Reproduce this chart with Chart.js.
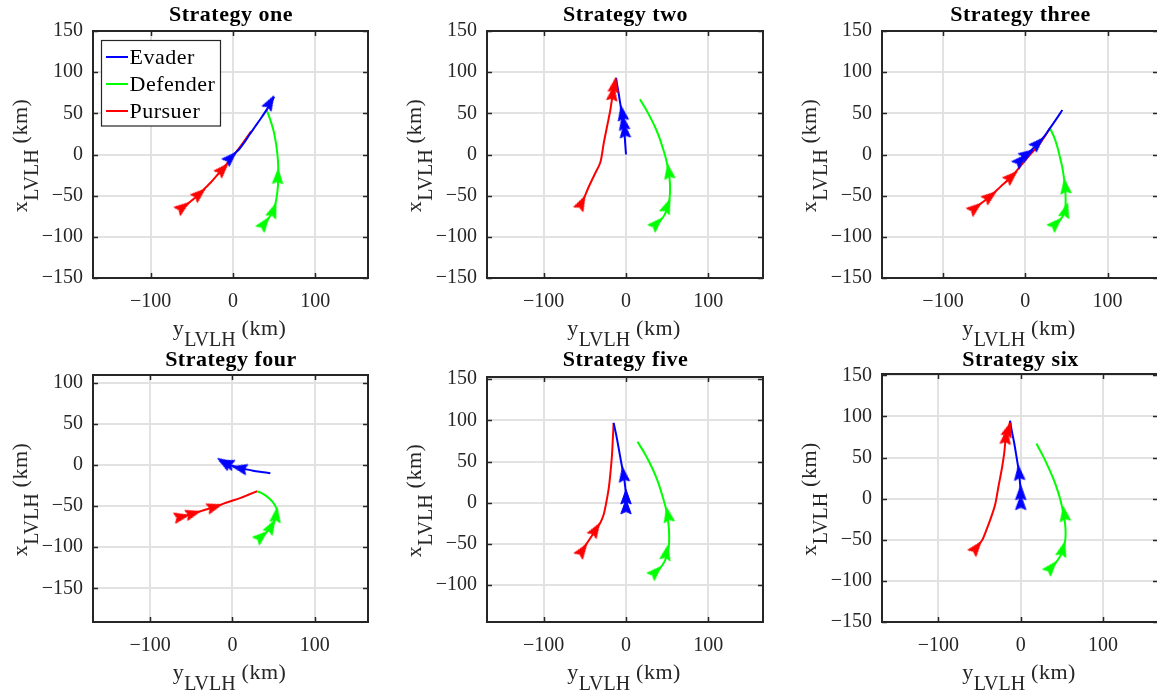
<!DOCTYPE html>
<html>
<head>
<meta charset="utf-8">
<script src="https://cdn.jsdelivr.net/npm/chart.js@4.4.1/dist/chart.umd.min.js"></script>
<style>
  html, body { margin: 0; padding: 0; background: #ffffff; overflow: hidden; width: 1157px; height: 694px; }
  #wrap { position: relative; width: 1157px; height: 694px; overflow: hidden; }
  #wrap canvas { position: absolute; left: 0; top: 0; }
</style>
</head>
<body>
<div id="wrap"></div>
<script>
// ---- text ----
const titles = ['Strategy one', 'Strategy two', 'Strategy three', 'Strategy four', 'Strategy five', 'Strategy six'];
const seriesNames = ['Evader', 'Defender', 'Pursuer'];

// ---- tick values ----
const xTickValues = [-100, 0, 100];
const yTicksFull = [-150, -100, -50, 0, 50, 100, 150];
const yTicksFour = [-150, -100, -50, 0, 50, 100];
const yTicksFive = [-100, -50, 0, 50, 100, 150];

// ---- axis limits [min, max] (y_LVLH horizontal, x_LVLH vertical) ----
const xLimits = [[-170, 164], [-168.8, 166.4], [-174.1, 161.2], [-169.4, 164.6], [-168.8, 166.4], [-168.5, 166.7]];
const yLimits = [[-150, 150], [-150, 150], [-150, 150], [-190.8, 109.2], [-144.9, 152.7], [-150.5, 151.8]];

// ---- trajectories: [y_LVLH, x_LVLH] in km ----
// Strategy one
const evaderOne = [[-3,-4],[2,1],[8,7],[14,15],[20,24],[27,34],[34,44],[40,53],[45,61],[50,70]];
const defenderOne = [[37,-86],[43,-78],[48,-70],[51,-62],[53,-52],[54.5,-40],[55,-27],[55,-15],[54,0],[52,15],[49,30],[45,43],[41,54]];
const pursuerOne = [[-63,-66],[-55,-60],[-48,-54],[-41,-48],[-34,-41],[-27,-34],[-20,-26],[-12.5,-18],[-5,-8],[3,2],[12,14],[22,28]];
const evaderOneArrows = [[-3,-4],[45,63]];
const defenderOneArrows = [[38,-84],[49,-68],[54.5,-27]];
const pursuerOneArrows = [[-61,-64],[-41,-48],[-12.5,-18]];

// Strategy two
const evaderTwo = [[0,0],[-1,14],[-2,28],[-3,38],[-5,50],[-7,62],[-9,75],[-11,86],[-12,93]];
const defenderTwo = [[36,-86],[42,-80],[47,-73],[51,-63],[53,-53],[53.5,-42],[53,-30],[51,-17],[48,-3],[44,10],[40,22],[35,34],[29,46],[23,57],[17,67]];
const pursuerTwo = [[-55,-61],[-51,-53],[-46,-41],[-38,-24],[-31,-9],[-27,14],[-23,34],[-19,54],[-16,74],[-14,85],[-12,93]];
const evaderTwoArrows = [[-1.5,29],[-3,38.5],[-4.5,50]];
const defenderTwoArrows = [[37,-84],[50,-63],[52,-21]];
const pursuerTwoArrows = [[-54,-59],[-16,74],[-14,84]];

// Strategy three
const evaderThree = [[-8,-8],[-3,-3],[3,1],[10,8],[16,14],[23,22],[30,32],[37,42],[45,54]];
const defenderThree = [[36,-86],[42,-80],[46,-74],[48.5,-65],[49,-55],[48.5,-42],[47,-29],[45,-16],[42,-3],[39,9],[35,21],[30,32]];
const pursuerThree = [[-62,-66],[-52,-58],[-43,-51],[-30,-39],[-17,-27],[-5,-13],[5,-1],[15,10],[23,21],[30,32]];
const evaderThreeArrows = [[-6,-7],[2,0.5],[15,13.5]];
const defenderThreeArrows = [[37,-84],[49,-68],[48.5,-39]];
const pursuerThreeArrows = [[-61,-65],[-43,-51],[-17,-27]];

// Strategy four
const evaderFour = [[46,-10],[35,-8.5],[25,-7],[15,-5],[8,-3.5],[0,-1],[-8,1.5],[-12,4]];
const defenderFour = [[33,-89],[40,-83],[46,-77],[50,-70],[53,-62],[54,-55],[51,-48],[46,-42],[40,-37],[35,-34],[30,-32]];
const pursuerFour = [[-65,-63],[-55,-61],[-48,-59],[-35,-55],[-22,-51],[-5,-45],[10,-40],[20,-36],[30,-32]];
const evaderFourArrows = [[-10,3],[-7,2],[9,-4]];
const defenderFourArrows = [[35,-87],[47,-75],[53,-61]];
const pursuerFourArrows = [[-62,-63],[-48,-59],[-22,-51]];

// Strategy five
const evaderFive = [[0,-10],[0,-5],[0,7],[-1,20],[-3,34],[-6,50],[-9,67],[-12,83],[-15,97]];
const defenderFive = [[35,-86],[42,-79],[47,-71],[50,-63],[52,-53],[52.5,-42],[52,-30],[50.5,-18],[48,-5],[44,9],[40,22],[35,35],[29,48],[22,61],[14,74]];
const pursuerFive = [[-55,-60],[-48,-50],[-42,-41],[-37,-33],[-31,-24],[-27,-14],[-24,0],[-21,17],[-19,35],[-17,58],[-16,77],[-15,97]];
const evaderFiveArrows = [[0,-5],[0,7],[-3,34]];
const defenderFiveArrows = [[36,-84],[49,-61],[51,-15]];
const pursuerFiveArrows = [[-53,-58],[-37,-33]];

// Strategy six
const evaderSix = [[0,-10],[0,-5],[0,7],[-1,20],[-2,31],[-5,50],[-8,68],[-11,83],[-13,95]];
const defenderSix = [[36,-86],[42,-79],[47,-72],[51,-63],[53.5,-54],[54.5,-44],[54,-32],[52,-19],[49,-5],[45,9],[40,23],[34,37],[27,52],[19,67]];
const pursuerSix = [[-56,-62],[-52,-57],[-47,-51],[-42,-39],[-36,-23],[-31,-7],[-27,15],[-23,36],[-20,56],[-18,75],[-15,84],[-13,94]];
const evaderSixArrows = [[0,-5],[0,7],[-2,31]];
const defenderSixArrows = [[37,-84],[51,-62],[53,-19]];
const pursuerSixArrows = [[-54,-60],[-18,75],[-15,84]];

// ---- styling ----
const COLORS = ['#0000ff', '#00ff00', '#ff0000'];
const SERIF = "'Liberation Serif', 'Times New Roman', serif";
const AXIS_COLOR = '#262626';
const GRID_COLOR = '#e2e2e2';
const CANVAS_W = 1170, CANVAS_H = 694;
const Y_AXIS_W = 60, X_AXIS_H = 40;

// plot-area boxes of the 2x3 grid
const panels = [
  { left: 93,  top: 31,  right: 368,  bottom: 278, titleBase: 20.7 },
  { left: 487, top: 31,  right: 763,  bottom: 278, titleBase: 20.7 },
  { left: 882, top: 31,  right: 1158, bottom: 278, titleBase: 20.7 },
  { left: 93,  top: 375, right: 368,  bottom: 622, titleBase: 365.7 },
  { left: 487, top: 377, right: 763,  bottom: 622, titleBase: 365.7 },
  { left: 882, top: 374, right: 1158, bottom: 622, titleBase: 365.7 }
];

const strategies = [
  { paths: [evaderOne, defenderOne, pursuerOne],       arrows: [evaderOneArrows, defenderOneArrows, pursuerOneArrows],       yTicks: yTicksFull },
  { paths: [evaderTwo, defenderTwo, pursuerTwo],       arrows: [evaderTwoArrows, defenderTwoArrows, pursuerTwoArrows],       yTicks: yTicksFull },
  { paths: [evaderThree, defenderThree, pursuerThree], arrows: [evaderThreeArrows, defenderThreeArrows, pursuerThreeArrows], yTicks: yTicksFull },
  { paths: [evaderFour, defenderFour, pursuerFour],    arrows: [evaderFourArrows, defenderFourArrows, pursuerFourArrows],    yTicks: yTicksFour },
  { paths: [evaderFive, defenderFive, pursuerFive],    arrows: [evaderFiveArrows, defenderFiveArrows, pursuerFiveArrows],    yTicks: yTicksFive },
  { paths: [evaderSix, defenderSix, pursuerSix],       arrows: [evaderSixArrows, defenderSixArrows, pursuerSixArrows],       yTicks: yTicksFull }
];

// arrowhead sprite pointing up, centred in its canvas
function makeArrowHead(color) {
  const c = document.createElement('canvas');
  c.width = 18; c.height = 18;
  const g = c.getContext('2d');
  g.fillStyle = color;
  g.strokeStyle = color;
  g.lineWidth = 1;
  g.lineJoin = 'round';
  g.beginPath();
  g.moveTo(9, 1.5);
  g.lineTo(14.2, 16);
  g.lineTo(9, 13.6);
  g.lineTo(3.8, 16);
  g.closePath();
  g.fill();
  g.stroke();
  return c;
}
const arrowHeads = COLORS.map(makeArrowHead);

// heading (degrees clockwise from up) of the path segment nearest to a point
function headingAt(path, p) {
  let best = Infinity, dir = [0, 1];
  for (let i = 0; i < path.length - 1; i++) {
    const a = path[i], b = path[i + 1];
    const vx = b[0] - a[0], vy = b[1] - a[1];
    const len2 = vx * vx + vy * vy || 1;
    let t = ((p[0] - a[0]) * vx + (p[1] - a[1]) * vy) / len2;
    t = Math.max(0, Math.min(1, t));
    const dx = a[0] + t * vx - p[0], dy = a[1] + t * vy - p[1];
    const d = dx * dx + dy * dy;
    if (d < best) { best = d; dir = [vx, vy]; }
  }
  return Math.atan2(dir[0], dir[1]) * 180 / Math.PI;
}

const toXY = pts => pts.map(([x, y]) => ({ x, y }));
const fmtTick = v => String(v).replace('-', '\u2212');

const LABEL_FONT = `22px ${SERIF}`;
const SUB_FONT = `20px ${SERIF}`;

function drawComposite(ctx, parts) {
  const widths = parts.map(p => {
    ctx.font = p.sub ? SUB_FONT : LABEL_FONT;
    ctx.letterSpacing = p.sub ? '0px' : '0.5px';
    return ctx.measureText(p.t).width;
  });
  const total = widths.reduce((a, b) => a + b, 0);
  let x = -total / 2;
  parts.forEach((p, i) => {
    ctx.font = p.sub ? SUB_FONT : LABEL_FONT;
    ctx.letterSpacing = p.sub ? '0px' : '0.5px';
    ctx.fillText(p.t, x, p.sub ? 11 : 0);
    x += widths[i];
  });
}

// frame, inward ticks, title, axis labels and legend
const decor = {
  id: 'decor',
  afterDraw(chart, args, opts) {
    const ctx = chart.ctx;
    const a = chart.chartArea;
    const xs = chart.scales.x, ys = chart.scales.y;
    const idx = opts.index;
    const box = panels[idx];
    ctx.save();

    // inward tick marks on all four sides
    ctx.strokeStyle = AXIS_COLOR;
    ctx.lineWidth = 1.5;
    ctx.beginPath();
    xTickValues.forEach(v => {
      const px = Math.round(xs.getPixelForValue(v)) + 0.5;
      ctx.moveTo(px, a.bottom); ctx.lineTo(px, a.bottom - 5);
      ctx.moveTo(px, a.top); ctx.lineTo(px, a.top + 5);
    });
    strategies[idx].yTicks.forEach(v => {
      const py = Math.round(ys.getPixelForValue(v)) + 0.5;
      ctx.moveTo(a.left, py); ctx.lineTo(a.left + 5, py);
      ctx.moveTo(a.right, py); ctx.lineTo(a.right - 5, py);
    });
    ctx.stroke();

    // axes box
    ctx.lineWidth = 2;
    ctx.strokeRect(a.left, a.top, a.right - a.left, a.bottom - a.top);

    // title
    ctx.fillStyle = '#000000';
    ctx.font = `bold 22px ${SERIF}`;
    ctx.letterSpacing = '0.5px';
    ctx.textAlign = 'center';
    ctx.textBaseline = 'alphabetic';
    ctx.fillText(titles[idx], (a.left + a.right) / 2 + 0.5, box.titleBase);

    // axis labels with LVLH subscript
    ctx.textAlign = 'left';
    ctx.fillStyle = AXIS_COLOR;
    ctx.save();
    ctx.translate((a.left + a.right) / 2 - 1, a.bottom + 57);
    drawComposite(ctx, [{ t: 'y' }, { t: 'LVLH', sub: true }, { t: ' (km)' }]);
    ctx.restore();
    ctx.save();
    ctx.translate(a.left - 66, (a.top + a.bottom) / 2 + 1);
    ctx.rotate(-Math.PI / 2);
    drawComposite(ctx, [{ t: 'x' }, { t: 'LVLH', sub: true }, { t: ' (km)' }]);
    ctx.restore();

    // legend
    if (opts.legend) {
      const lx = 101.5, ly = 40.5, lw = 119, lh = 85.5;
      ctx.fillStyle = '#ffffff';
      ctx.fillRect(lx, ly, lw, lh);
      ctx.strokeStyle = AXIS_COLOR;
      ctx.lineWidth = 1.2;
      ctx.strokeRect(lx, ly, lw, lh);
      ctx.font = `22px ${SERIF}`;
      ctx.letterSpacing = '0.5px';
      ctx.textAlign = 'left';
      ctx.textBaseline = 'alphabetic';
      seriesNames.forEach((name, i) => {
        const cy = 57 + i * 27;
        ctx.strokeStyle = COLORS[i];
        ctx.lineWidth = 2;
        ctx.beginPath();
        ctx.moveTo(106, cy); ctx.lineTo(128, cy);
        ctx.stroke();
        ctx.fillStyle = '#000000';
        ctx.fillText(name, 129.5, cy + 7.3);
      });
    }
    ctx.restore();
  }
};

const wrap = document.getElementById('wrap');

strategies.forEach((s, idx) => {
  const box = panels[idx];
  const canvas = document.createElement('canvas');
  canvas.width = CANVAS_W; canvas.height = CANVAS_H;
  canvas.style.width = CANVAS_W + 'px'; canvas.style.height = CANVAS_H + 'px';
  wrap.appendChild(canvas);

  const datasets = [];
  // arrowheads first so they sit on top of every line
  s.arrows.forEach((pts, k) => {
    const rot = pts.map(p => headingAt(s.paths[k], p));
    datasets.push({
      label: seriesNames[k] + ' heading',
      data: toXY(pts),
      showLine: false,
      pointStyle: arrowHeads[k],
      pointRadius: 7,
      pointRotation: c => rot[c.dataIndex],
      backgroundColor: COLORS[k],
      borderColor: COLORS[k]
    });
  });
  s.paths.forEach((pts, k) => {
    datasets.push({
      label: seriesNames[k],
      data: toXY(pts),
      showLine: true,
      borderColor: COLORS[k],
      backgroundColor: COLORS[k],
      borderWidth: 2,
      pointRadius: 0,
      tension: 0.3,
      fill: false
    });
  });

  new Chart(canvas, {
    type: 'scatter',
    data: { datasets },
    options: {
      responsive: false,
      animation: false,
      devicePixelRatio: 1,
      events: [],
      layout: {
        padding: {
          left: box.left - Y_AXIS_W,
          top: box.top,
          right: CANVAS_W - box.right,
          bottom: CANVAS_H - box.bottom - X_AXIS_H
        }
      },
      plugins: {
        legend: { display: false },
        title: { display: false },
        tooltip: { enabled: false },
        decor: { index: idx, legend: idx === 0 }
      },
      scales: {
        x: {
          type: 'linear',
          min: xLimits[idx][0],
          max: xLimits[idx][1],
          afterFit: sc => { sc.height = X_AXIS_H; },
          afterBuildTicks: sc => { sc.ticks = xTickValues.map(v => ({ value: v })); },
          ticks: {
            color: AXIS_COLOR,
            font: { family: SERIF, size: 20 },
            padding: 12,
            maxRotation: 0,
            callback: fmtTick
          },
          grid: { color: GRID_COLOR, lineWidth: 2, drawTicks: false },
          border: { display: false }
        },
        y: {
          type: 'linear',
          min: yLimits[idx][0],
          max: yLimits[idx][1],
          afterFit: sc => { sc.width = Y_AXIS_W; },
          afterBuildTicks: sc => { sc.ticks = s.yTicks.map(v => ({ value: v })); },
          ticks: {
            color: AXIS_COLOR,
            font: { family: SERIF, size: 20 },
            padding: 10,
            callback: fmtTick
          },
          grid: { color: GRID_COLOR, lineWidth: 2, drawTicks: false },
          border: { display: false }
        }
      }
    },
    plugins: [decor]
  });
});
</script>
</body>
</html>
